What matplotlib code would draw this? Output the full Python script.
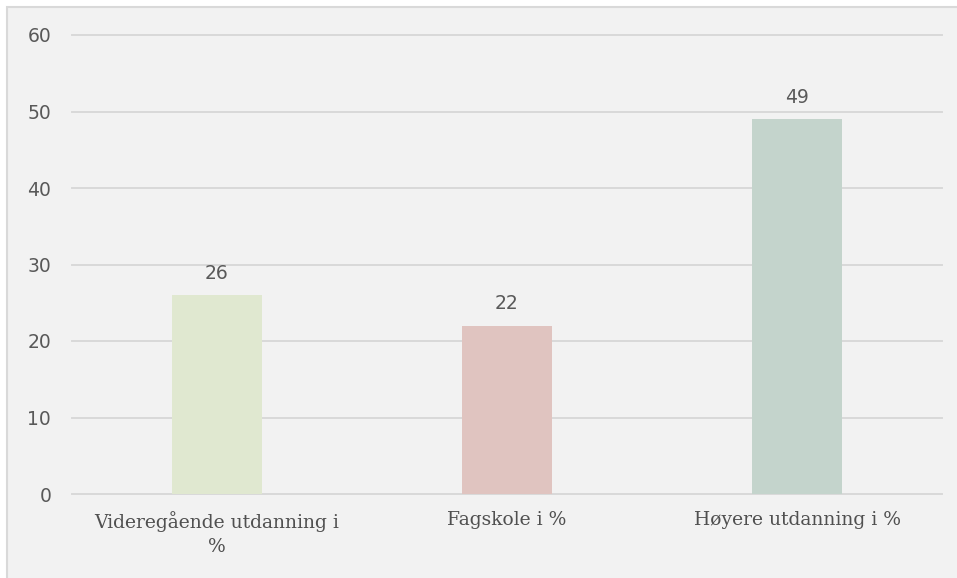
import numpy as np
import matplotlib.pyplot as plt
from matplotlib.patches import Rectangle

categories = ['Videregående utdanning i\n%', 'Fagskole i %', 'Høyere utdanning i %']
values = [26, 22, 49]
colors = ['#e0e8d0', '#e0c4c0', '#c4d4cc']
yticks = [0, 10, 20, 30, 40, 50, 60]

txt = '#595959'

fig = plt.figure(figsize=(9.57, 5.78), dpi=100)
fig.patch.set_facecolor('white')
# chart area background with border (cropped at right/bottom)
fig.patches.append(Rectangle((7 / 957, -0.1), 1.2, 1 - 7 / 578 + 0.1,
                             transform=fig.transFigure, facecolor='#f2f2f2',
                             edgecolor='#d9d9d9', linewidth=1.5, zorder=-5))

ax = fig.add_axes([72 / 957, 1 - 494 / 578, 870 / 957, (494 - 35) / 578])
ax.set_facecolor('none')
ax.set_zorder(2)

x = np.arange(len(categories))
bars = ax.bar(x, values, width=0.31, color=colors, zorder=2)
for xi, v in zip(x, values):
    ax.text(xi, v + 1.6, str(v), ha='center', va='bottom', fontsize=13.5,
            color=txt, family='DejaVu Sans')

ax.set_xlim(-0.5, 2.5)
ax.set_ylim(0, 60)
ax.set_yticks(yticks)
ax.set_yticklabels([str(t) for t in yticks], fontsize=13.5, color=txt,
                   family='DejaVu Sans')
ax.set_xticks(x)
ax.set_xticklabels(categories, fontsize=13.5, color='#505050',
                   family='DejaVu Serif', linespacing=1.45)
ax.tick_params(axis='both', length=0)
ax.tick_params(axis='y', pad=15)
ax.tick_params(axis='x', pad=12)
for t in yticks:
    ax.axhline(t, color='#d9d9d9', linewidth=1.4, zorder=0, clip_on=False)
for s in ax.spines.values():
    s.set_visible(False)

fig.savefig('out.png', dpi=100)
